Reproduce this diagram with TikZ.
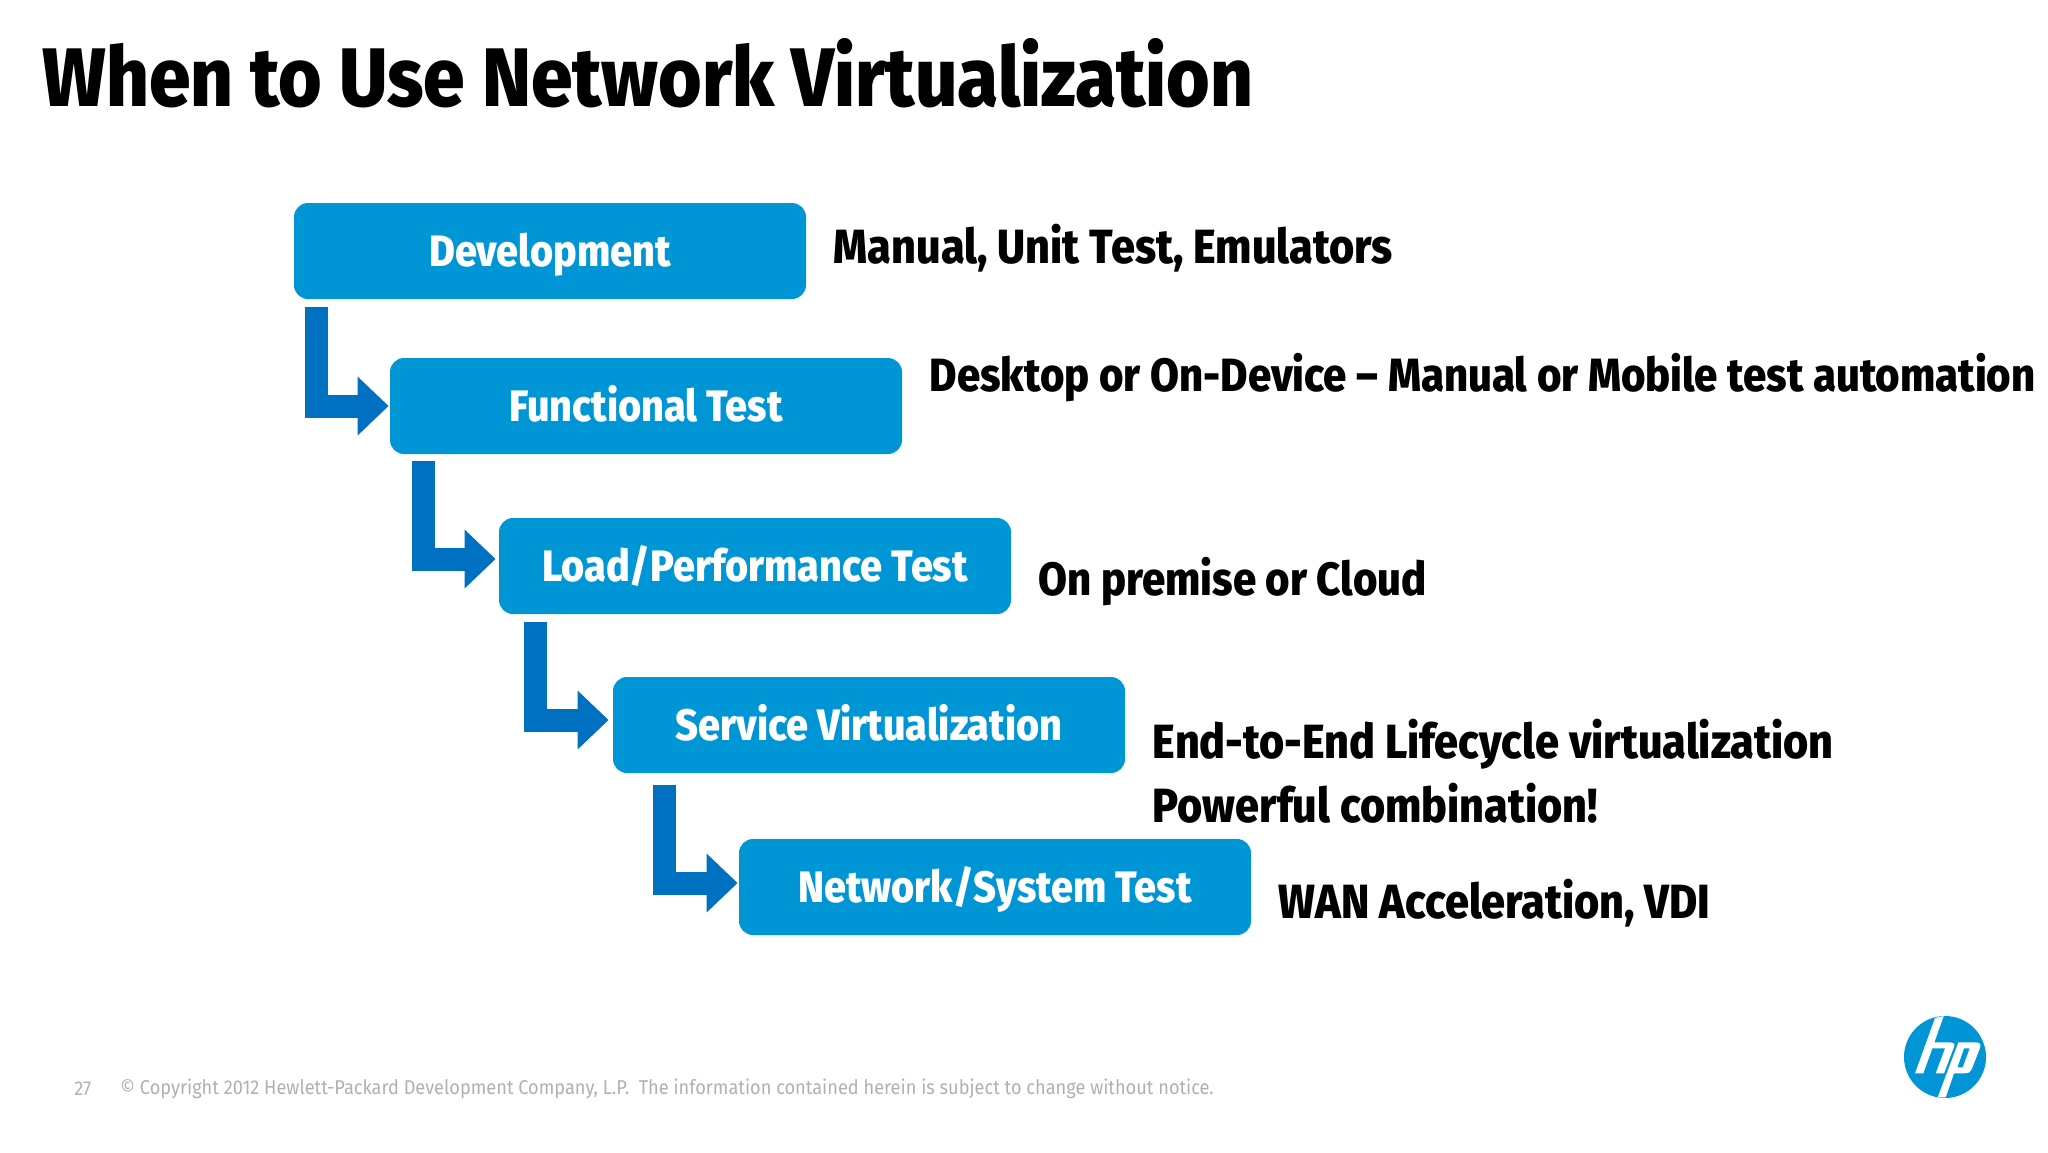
\documentclass[tikz,border=0pt]{standalone}
\usepackage{fontspec}
\usetikzlibrary{arrows.meta,positioning}
\setmainfont{Fira Sans}[FakeStretch=0.9,BoldFont={Fira Sans ExtraBold},BoldFeatures={FakeStretch=0.9}]
\newfontfamily\footfont{Fira Sans}[FakeStretch=0.91]
\definecolor{hpblue}{RGB}{0,150,214}
\definecolor{arrowblue}{RGB}{0,112,192}
\definecolor{footgray}{RGB}{176,176,176}
\tikzset{
  stagebox/.style={fill=hpblue,rounded corners=7pt,minimum width=256pt,minimum height=48pt,inner sep=0pt,
    text height=17.5pt,text depth=2.5pt,text=white,font=\fontsize{22}{24}\selectfont\bfseries},
  sidenote/.style={inner sep=0pt,anchor=west,font=\fontsize{24}{26}\selectfont\bfseries},
  sidesmall/.style={sidenote,font=\fontsize{23.3}{26}\selectfont\bfseries},
  steparrow/.style={draw=arrowblue,line width=11.5pt,-{Triangle[length=15.5pt,width=28.5pt,fill=arrowblue]}},
  footnote/.style={inner sep=0pt,anchor=west,text=footgray,font=\fontsize{10}{12}\footfont},
}
\begin{document}
\begin{tikzpicture}[x=0.5pt,y=-0.5pt]
      \useasboundingbox (0,0) rectangle (2048,1152);
      \node[inner sep=0pt,anchor=west,font=\fontsize{41.5}{46}\selectfont\bfseries] (title) at (42,73) {When to Use Network Virtualization};

      \node[stagebox] (dev)  at (550,251) {Development};
      \node[stagebox] (func) at (646,406) {Functional Test};
      \node[stagebox] (load) at (755,566) {Load/Performance Test};
      \node[stagebox] (serv) at (869,725) {Service Virtualization};
      \node[stagebox] (net)  at (995,887) {Network/System Test};

      \node[sidenote,right=13.5pt of dev,yshift=1.5pt]   (devnote)  {Manual, Unit Test, Emulators};
      \node[sidesmall,right=13.5pt of func,yshift=14pt] (funcnote) {Desktop or On-Device -- Manual or Mobile test automation};
      \node[sidesmall,right=13.5pt of load,yshift=-8pt] (loadnote) {On premise or Cloud};
      \node[sidenote,right=13.5pt of serv,yshift=-9.5pt] (servnote) {End-to-End Lifecycle virtualization};
      \node[sidenote,below=6.5pt of servnote.south west,anchor=north west] (combnote) {Powerful combination!};
      \node[sidenote,right=13.5pt of net,yshift=-8pt]  (netnote)  {WAN Acceleration, VDI};

      \coordinate (devfoot)  at (316,307);
      \coordinate (funcfoot) at (423,461);
      \coordinate (loadfoot) at (535.5,622);
      \coordinate (servfoot) at (664,785);
      \draw[steparrow] (devfoot)  |- ([xshift=-.5pt]func.west);
      \draw[steparrow] (funcfoot) |- ([xshift=-1.5pt,yshift=3.5pt]load.west);
      \draw[steparrow] (loadfoot) |- ([xshift=-2pt,yshift=2.5pt]serv.west);
      \draw[steparrow] (servfoot) |- ([xshift=-.5pt,yshift=2pt]net.west);

      \node[footnote] (page) at (74,1089) {27};
      \node[footnote] (copy) at (120,1089) {© Copyright 2012 Hewlett-Packard Development Company, L.P.\ \ The information contained herein is subject to change without notice.};

      % logo
      \fill[hpblue] (1945,1057) circle (20.5pt);
      \begin{scope}[shift={(1895,1010)},x=0.1667pt,y=-0.1667pt]
        \fill[white] (120,24) -- (146,18) -- (118,97) -- (165,97) .. controls (180,97) and (180,105) .. (176,113)
          -- (147,190) -- (122,190) -- (150,115) -- (112,115) -- (85,190) -- (60,190) -- cycle;
        \fill[white,even odd rule] (190,97) -- (243,97) .. controls (256,97) and (258,105) .. (255,113)
          -- (230,178) .. controls (226,187) and (220,190) .. (210,190) -- (177,190) -- (152,262) -- (128,262) -- cycle
          (207,115) -- (224,115) -- (203,172) -- (187,172) -- cycle;
      \end{scope}
    \end{tikzpicture}
\end{document}
